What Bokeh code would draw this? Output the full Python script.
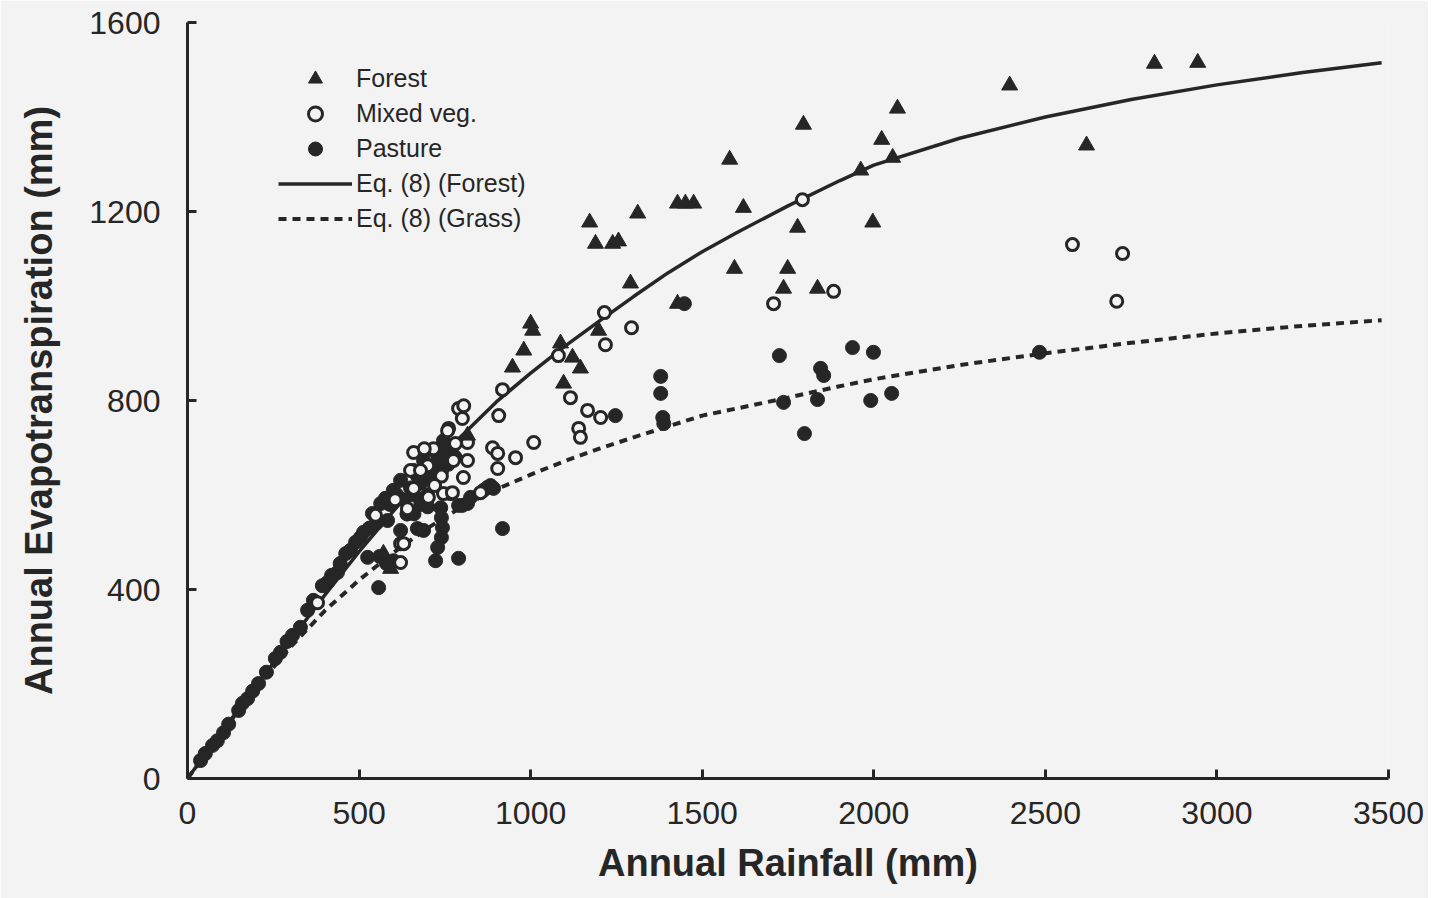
from bokeh.plotting import figure
from bokeh.models import Range1d, FixedTicker, Legend, LegendItem
from bokeh.embed import file_html
from bokeh.resources import INLINE

# ---------------- data ----------------
forest_p = [2069, 1795, 1580, 2023, 2055, 1962, 1620, 1778, 1997, 2620, 1594, 1749, 1737, 1836,
            2396, 2818, 2944, 1172, 1312, 1428, 1451, 1475, 1189, 1239, 1256, 1291, 1000, 1006,
            980, 947, 1087, 1198, 1122, 1145, 1096, 1428, 816, 592, 571]
forest_et = [1418, 1384, 1310, 1352, 1314, 1287, 1208, 1166, 1177, 1340, 1079, 1079, 1037, 1037,
             1467, 1513, 1515, 1177, 1196, 1217, 1217, 1217, 1132, 1132, 1137, 1048, 963, 948,
             906, 870, 921, 948, 891, 868, 836, 1005, 726, 444, 476]

mixed_p = [1792, 1883, 1708, 2579, 2725, 2708, 1215, 1294, 1218, 1081, 1116, 1166, 1204, 1140,
           1145, 1009, 956, 918, 907, 790, 805, 801, 761, 889, 904, 904, 758, 781, 816, 804,
           767, 700, 650, 659, 700, 641, 548, 621, 621, 379, 816, 775, 717, 679, 746, 772,
           702, 854, 630, 659, 690, 740, 720, 605]
mixed_et = [1225, 1031, 1005, 1130, 1111, 1010, 986, 954, 918, 895, 806, 779, 764, 741,
            722, 711, 679, 823, 768, 783, 789, 762, 741, 700, 688, 656, 736, 709, 673, 637,
            603, 662, 652, 614, 599, 571, 557, 497, 457, 372, 711, 673, 698, 652, 603, 605,
            595, 605, 497, 690, 698, 640, 620, 590]

pasture_p = [1725, 1938, 1999, 1845, 1854, 1737, 1836, 1991, 2052, 1798, 2483, 1247, 1379, 1379,
             1385, 1388, 918, 1448, 723, 790, 738, 740, 743, 740, 729, 670, 688, 557, 525, 600,
             801, 825, 863, 883, 790, 816, 874, 892, 560, 580,
             38, 52, 73, 87, 105, 120, 149, 160, 175, 190, 207, 230, 256, 271, 290, 306, 329,
             350, 367, 393, 408, 420, 437, 445, 461, 475, 490, 504, 513, 530, 539, 550, 563,
             577, 583, 590, 600, 610, 621, 621, 630, 640, 650, 659, 660, 670, 680, 688, 700,
             700, 710, 717, 720, 730, 740, 746, 750, 760, 770, 780, 640, 680, 660, 700]
pasture_et = [895, 912, 902, 868, 853, 796, 802, 800, 815, 730, 902, 768, 851, 815,
              764, 751, 529, 1005, 461, 466, 573, 552, 531, 510, 489, 529, 525, 404, 468, 461,
              578, 595, 610, 620, 578, 582, 616, 614, 470, 455,
              38, 53, 70, 80, 97, 115, 144, 159, 169, 185, 201, 225, 254, 267, 290, 303, 320,
              356, 377, 408, 415, 430, 436, 455, 476, 483, 500, 510, 521, 530, 561, 540, 582,
              593, 546, 580, 610, 600, 631, 525, 590, 560, 615, 652, 600, 640, 625, 673, 640,
              575, 660, 694, 630, 675, 650, 715, 690, 665, 700, 680, 560, 580, 560, 600]

curve_p = [0, 100, 200, 300, 400, 500, 600, 700, 800, 900, 1000, 1100, 1200, 1300, 1400,
           1500, 1600, 1750, 1900, 2000, 2250, 2500, 2750, 3000, 3250, 3480]
forest_curve_et = [0, 99, 196, 292, 388, 480, 566, 648, 726, 797, 858, 915, 968, 1020, 1070,
                   1115, 1155, 1212, 1265, 1298, 1355, 1400, 1437, 1468, 1494, 1515]
grass_curve_et = [0, 98, 192, 278, 355, 420, 478, 530, 575, 612, 643, 672, 698, 722, 745,
                  768, 783, 806, 830, 845, 875, 900, 922, 942, 958, 970]

x_ticks = [0, 500, 1000, 1500, 2000, 2500, 3000, 3500]
y_ticks = [0, 400, 800, 1200, 1600]

# ---------------- styling ----------------
INK = "#262626"
PAPER = "#f3f3f3"
FONT = "Liberation Sans"

p = figure(width=1428, height=898, output_backend="svg", toolbar_location=None,
           x_range=Range1d(0, 3500), y_range=Range1d(0, 1600),
           min_border_left=187, min_border_top=22, min_border_right=40, min_border_bottom=120,
           background_fill_color=PAPER, border_fill_color=PAPER)
p.outline_line_color = None
p.grid.visible = False

for ax in (p.xaxis[0], p.yaxis[0]):
    ax.axis_line_width = 3
    ax.axis_line_color = INK
    ax.major_tick_in = 9
    ax.major_tick_out = 0
    ax.major_tick_line_width = 3
    ax.major_tick_line_color = INK
    ax.minor_tick_line_color = None
    ax.major_label_text_font = FONT
    ax.major_label_text_font_size = "32px"
    ax.major_label_text_color = INK
    ax.axis_label_text_font = FONT
    ax.axis_label_text_font_size = "38px"
    ax.axis_label_text_font_style = "bold"
    ax.axis_label_text_color = INK

p.xaxis.ticker = FixedTicker(ticks=x_ticks)
p.yaxis.ticker = FixedTicker(ticks=y_ticks)
p.xaxis.axis_label = "Annual Rainfall (mm)"
p.yaxis.axis_label = "Annual Evapotranspiration (mm)"
p.xaxis.major_label_standoff = 23
p.yaxis.major_label_standoff = 27
p.xaxis.axis_label_standoff = 15
p.yaxis.axis_label_standoff = 26

r_fc = p.line(curve_p, forest_curve_et, line_color=INK, line_width=3.5)
r_gc = p.line(curve_p, grass_curve_et, line_color=INK, line_width=4, line_dash="8 6")

r_pa = p.scatter(pasture_p, pasture_et, marker="circle", size=14,
                 fill_color=INK, line_color=INK, line_width=1)
r_mi = p.scatter(mixed_p, mixed_et, marker="circle", size=12,
                 fill_color=PAPER, line_color=INK, line_width=3)
r_fo = p.scatter(forest_p, forest_et, marker="triangle", size=16,
                 fill_color=INK, line_color=INK, line_width=1)

legend = Legend(items=[
    LegendItem(label="Forest", renderers=[r_fo]),
    LegendItem(label="Mixed veg.", renderers=[r_mi]),
    LegendItem(label="Pasture", renderers=[r_pa]),
    LegendItem(label="Eq. (8) (Forest)", renderers=[r_fc]),
    LegendItem(label="Eq. (8) (Grass)", renderers=[r_gc]),
], location=(91, 542))
legend.border_line_color = None
legend.background_fill_alpha = 0
legend.padding = 0
legend.margin = 0
legend.spacing = 0
legend.glyph_width = 74
legend.glyph_height = 35
legend.label_height = 35
legend.label_standoff = 4
legend.label_text_font = FONT
legend.label_text_font_size = "25px"
legend.label_text_color = INK
p.add_layout(legend)

open("out.html", "w").write(file_html(p, INLINE))
